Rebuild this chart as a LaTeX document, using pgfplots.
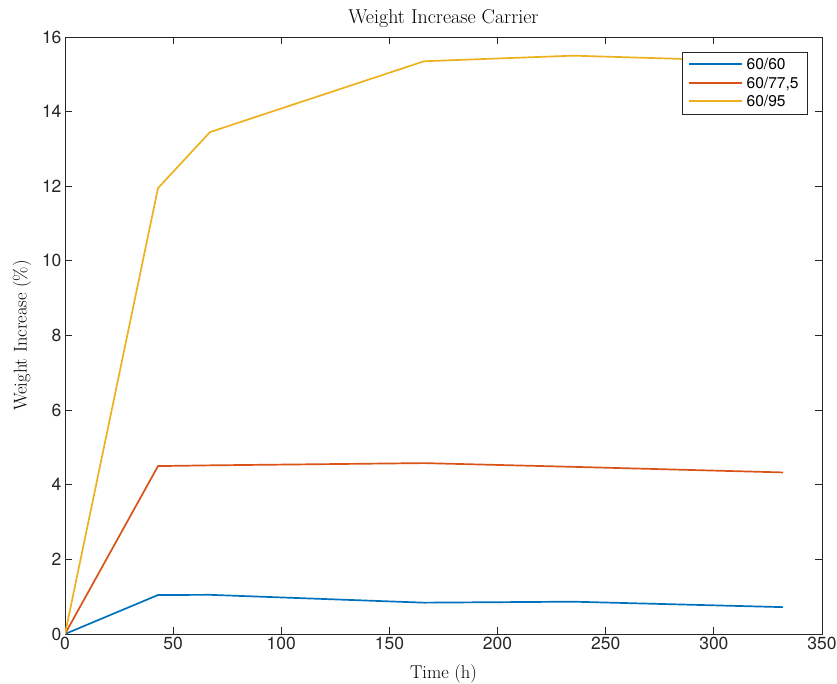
\documentclass[border=0pt]{standalone}
\usepackage{fontspec}
\usepackage{pgfplots}
\pgfplotsset{compat=1.18}
\newfontfamily\helv{TeX Gyre Heros}
\definecolor{mblue}{rgb}{0,0.447,0.741}
\definecolor{mred}{rgb}{0.85,0.325,0.098}
\definecolor{myellow}{rgb}{0.929,0.694,0.125}
\definecolor{axgray}{rgb}{0.15,0.15,0.15}
\begin{document}
\begin{tikzpicture}[x=1pt,y=1pt]
\useasboundingbox (-65,-49) rectangle (772,634);
\begin{axis}[
  at={(0,0)}, anchor=south west,
  scale only axis, width=757pt, height=597pt,
  xmin=0, xmax=350, ymin=0, ymax=16,
  xtick={0,50,...,350}, ytick={0,2,...,16},
  tick align=inside, major tick length=7pt,
  axis line style={color=axgray, line width=0.9pt},
  every tick/.style={color=axgray, line width=0.9pt},
  /pgf/number format/assume math mode=true,
  ticklabel style={font=\fontsize{17.5}{20}\helv, text=axgray},
  title={\fontsize{20}{24}\selectfont Weight Increase Carrier},
  xlabel={\fontsize{18.5}{22}\selectfont Time (h)},
  ylabel={\fontsize{18.5}{22}\selectfont Weight Increase (\%)},
  xlabel style={yshift=-8pt},
  ylabel style={yshift=4pt},
  legend style={at={(1,1)}, anchor=north east, xshift=-14pt, yshift=-15pt,
    font=\fontsize{15.6}{18}\helv, draw=axgray, line width=0.7pt,
    inner xsep=5pt, inner ysep=4pt, row sep=1.5pt,
    nodes={inner xsep=4pt, text height=11.5pt, text depth=1.5pt}},
  legend cell align=left,
  legend image code/.code={\draw[#1, line width=2pt] (0pt,0.5pt) -- (53pt,0.5pt);},
]
\addplot[color=mblue, line width=1.7pt] coordinates {(0,0) (43,1.045) (67,1.05) (166,0.84) (235,0.866) (332,0.72)};
\addlegendentry{60/60}
\addplot[color=mred, line width=1.7pt] coordinates {(0,0) (43,4.50) (67,4.52) (166,4.58) (235,4.48) (332,4.33)};
\addlegendentry{60/77,5}
\addplot[color=myellow, line width=1.7pt] coordinates {(0,0) (43,11.95) (67,13.45) (166,15.35) (235,15.5) (332,15.33)};
\addlegendentry{60/95}
\end{axis}
\end{tikzpicture}
\end{document}
